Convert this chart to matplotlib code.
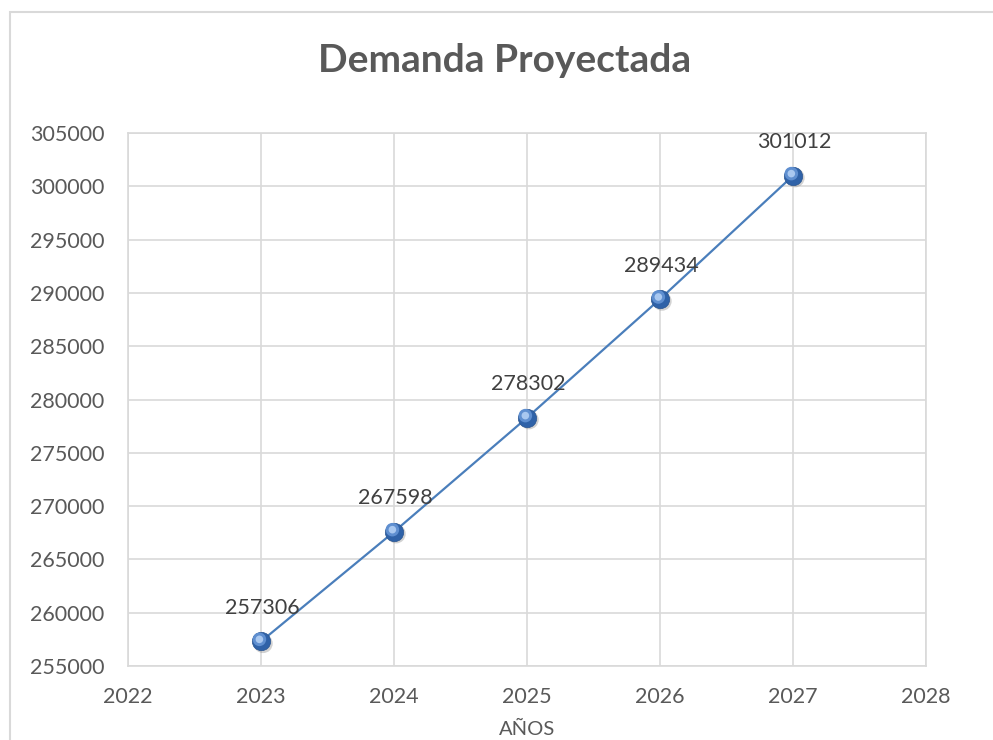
import matplotlib
matplotlib.use("Agg")
import matplotlib.pyplot as plt
import matplotlib.transforms as mtransforms
from matplotlib.patches import Rectangle

years = [2023, 2024, 2025, 2026, 2027]
demand = [257306, 267598, 278302, 289434, 301012]
x_ticks = [2022, 2023, 2024, 2025, 2026, 2027, 2028]
y_ticks = [255000, 260000, 265000, 270000, 275000, 280000, 285000, 290000, 295000, 300000, 305000]

plt.rcParams["font.family"] = ["Lato", "DejaVu Sans"]

fig = plt.figure(figsize=(9.93, 7.4), dpi=100)
ax = fig.add_axes([0.129, 0.100, 0.8035, 0.720])

# outer chart frame (Excel style)
fig.patches.append(Rectangle((10 / 993, -0.1), 1.2, 1 - 12 / 740 + 0.1,
                             transform=fig.transFigure, fill=False,
                             edgecolor="#d9d9d9", linewidth=1.5))

ax.plot(years, demand, color="#4a7ebb", linewidth=1.6, zorder=3)
# sphere-like markers: shadow, dark base, lighter highlight shifted up-left
shadow = mtransforms.offset_copy(ax.transData, fig=fig, x=1.5, y=-1.5, units="points")
hi = mtransforms.offset_copy(ax.transData, fig=fig, x=-1.2, y=1.5, units="points")
ax.scatter(years, demand, s=190, color="#7f7f7f", alpha=0.35, edgecolor="none",
           transform=shadow, zorder=4)
ax.scatter(years, demand, s=175, color="#2f62a8", edgecolor="#2a5590",
           linewidth=0.5, zorder=5)
ax.scatter(years, demand, s=95, color="#5f8fd0", edgecolor="none",
           transform=hi, zorder=6)
ax.scatter(years, demand, s=30, color="#a9c8f0", edgecolor="none",
           transform=hi, zorder=7)

for x, y in zip(years, demand):
    ax.annotate(f"{y}", xy=(x, y), xytext=(1, 24), textcoords="offset points",
                ha="center", va="center", fontsize=15.5, color="#404040")

ax.set_xlim(2022, 2028)
ax.set_ylim(255000, 305000)
ax.set_xticks(x_ticks)
ax.set_yticks(y_ticks)
ax.grid(True, color="#d9d9d9", linewidth=1.2)
ax.set_axisbelow(True)
for s in ax.spines.values():
    s.set_color("#d9d9d9")
    s.set_linewidth(1.2)
ax.tick_params(length=0, labelsize=15.5, labelcolor="#595959")
ax.tick_params(axis="y", pad=17)
ax.tick_params(axis="x", pad=15)

ax.set_xlabel("AÑOS", fontsize=14.5, color="#595959", labelpad=10)
fig.text(0.5085, 1 - 60 / 740, "Demanda Proyectada", ha="center", va="center",
         fontsize=28, fontweight="bold", color="#595959")

fig.savefig("out.png", dpi=100)
